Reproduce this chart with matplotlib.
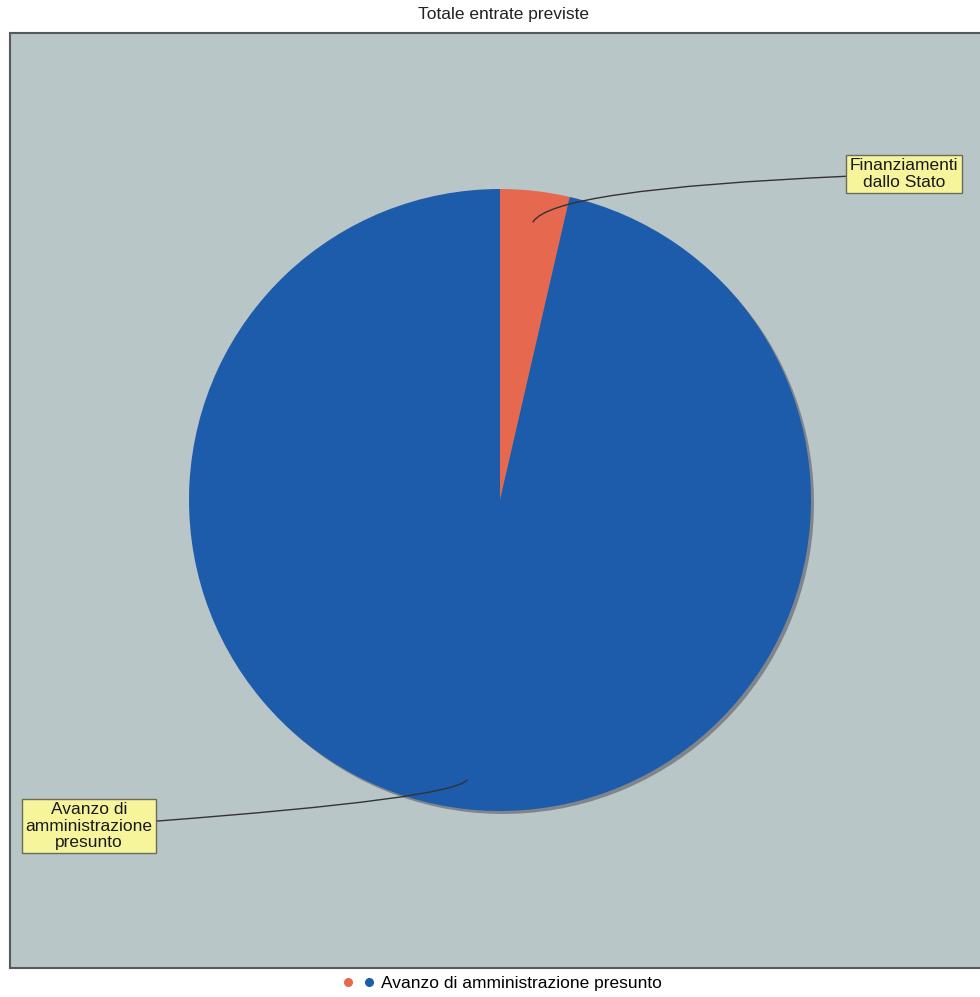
import matplotlib.pyplot as plt
from matplotlib.lines import Line2D
from matplotlib.legend_handler import HandlerTuple

plt.rcParams['font.family'] = ['Liberation Sans', 'DejaVu Sans']

# dati
categorie = ['Finanziamenti\ndallo Stato', 'Avanzo di\namministrazione\npresunto']
valori = [3.6, 96.4]
colori = ['#e6694f', '#1d5bab']
titolo = 'Totale entrate previste'
legenda = 'Avanzo di amministrazione presunto'

W, H = 980, 997
fig = plt.figure(figsize=(W / 100, H / 100), dpi=100)
fig.patch.set_facecolor('white')

# area del grafico in coordinate pixel
ax = fig.add_axes([10 / W, 29 / H, 980 / W, 935 / H])
ax.set_facecolor('#b9c6c7')

cx, cy, r = 500, 497, 311

# ombra
ax.pie(valori, colors=['#80858c'] * 2, startangle=90, counterclock=False,
       center=(cx + 3, cy - 3), radius=r, frame=True,
       wedgeprops=dict(linewidth=0))
wedges, _ = ax.pie(valori, colors=colori, startangle=90, counterclock=False,
                   center=(cx, cy), radius=r, frame=True,
                   wedgeprops=dict(linewidth=0))

ax.set_xlim(10, 990)
ax.set_ylim(29, 964)
ax.set_aspect('auto')
ax.set_xticks([])
ax.set_yticks([])
for s in ax.spines.values():
    s.set_color('#555a5c')
    s.set_linewidth(1.5)

box = dict(boxstyle='square,pad=0.2', fc='#f6f59c', ec='#6b6b5a', lw=1)

ax.annotate(categorie[0], xy=(533, H - 222), xytext=(904, H - 174),
            ha='center', va='center', fontsize=12.5, linespacing=1.1, bbox=box,
            color='#1a1a1a',
            arrowprops=dict(arrowstyle='-', color='#333333', lw=1,
                            connectionstyle='angle3,angleA=2,angleB=60',
                            shrinkA=0, shrinkB=0))
ax.annotate(categorie[1], xy=(467, H - 780), xytext=(89, H - 826),
            ha='center', va='center', fontsize=12.5, linespacing=1.1, bbox=box,
            color='#1a1a1a',
            arrowprops=dict(arrowstyle='-', color='#333333', lw=1,
                            connectionstyle='angle3,angleA=4,angleB=50',
                            shrinkA=0, shrinkB=0))

fig.text(503 / W, 1 - 14 / H, titolo, ha='center', va='center', fontsize=12.5,
         color='#222222')

h1 = Line2D([], [], marker='o', ls='', color=colori[0], markersize=5.5)
h2 = Line2D([], [], marker='o', ls='', color=colori[1], markersize=5.5)
fig.legend([(h1, h2)], [legenda], handler_map={tuple: HandlerTuple(ndivide=None, pad=0.6)},
           loc='center', bbox_to_anchor=(502 / W, 1 - 983 / H), frameon=False,
           fontsize=12.5, handlelength=1.8, handletextpad=0.4)

fig.savefig('out.png', dpi=100)
